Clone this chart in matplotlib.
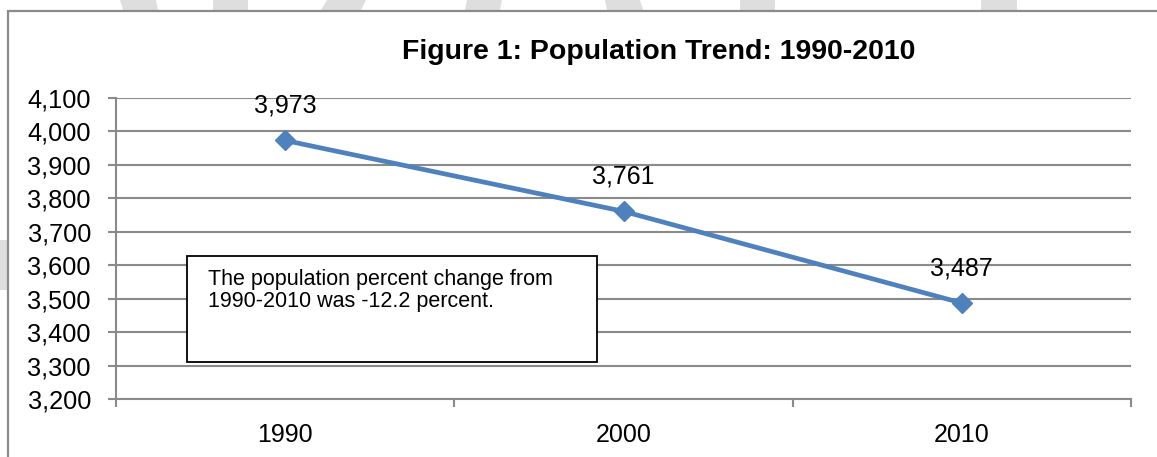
import matplotlib
matplotlib.use("Agg")
import matplotlib.pyplot as plt
from matplotlib.patches import Rectangle, Polygon
from matplotlib.ticker import FuncFormatter

plt.rcParams['font.family'] = ['Liberation Sans', 'DejaVu Sans']

years = ['1990', '2000', '2010']
population = [3973, 3761, 3487]
y_ticks = [3200, 3300, 3400, 3500, 3600, 3700, 3800, 3900, 4000, 4100]
title = 'Figure 1: Population Trend: 1990-2010'
note = 'The population percent change from\n1990-2010 was -12.2 percent.'

W, H = 1157, 457
fig = plt.figure(figsize=(W / 100, H / 100), dpi=100)


def px(x, y):
    # pixel position (top-left origin) -> figure fraction
    return (x / W, 1 - y / H)


# faint background marks around the chart frame
bg_shapes = [
    [(120, 0), (156, 0), (158, 10), (123, 10)],
    [(213, 0), (248, 0), (248, 10), (213, 10)],
    [(327, 0), (366, 0), (361, 10), (321, 10)],
    [(467, 0), (502, 0), (500, 10), (465, 10)],
    [(605, 0), (640, 0), (643, 10), (607, 10)],
    [(740, 0), (775, 0), (775, 10), (740, 10)],
    [(981, 0), (1017, 0), (1017, 10), (981, 10)],
    [(0, 240), (8, 240), (8, 290), (0, 290)],
]
for pts in bg_shapes:
    fig.add_artist(Polygon([px(*p) for p in pts], closed=True,
                           transform=fig.transFigure, facecolor='#dedede',
                           edgecolor='none', zorder=-3))

# chart frame (runs off the right and bottom edges)
x0, y0 = px(8, 11)
fig.add_artist(Rectangle((x0, -0.1), 1.2, y0 + 0.1, transform=fig.transFigure,
                         facecolor='white', edgecolor='#8a8a8a', lw=1.6, zorder=-2))

ax = fig.add_axes([116 / W, 1 - 399 / H, (1131 - 116) / W, (399 - 98) / H])
ax.set_facecolor('none')

x = list(range(1, len(years) + 1))
ax.plot(x, population, color='#4f81bd', lw=3.4, marker='D', markersize=10.5,
        markeredgecolor='#4f81bd', zorder=3, clip_on=False)

for xi, v in zip(x, population):
    ax.annotate(f'{v:,}', (xi, v), xytext=(0, 20), textcoords='offset points',
                ha='center', va='baseline', fontsize=18)

ax.set_xlim(0.5, len(years) + 0.5)
ax.set_ylim(y_ticks[0], y_ticks[-1])
ax.set_yticks(y_ticks)
ax.yaxis.set_major_formatter(FuncFormatter(lambda v, p: f'{int(v):,}'))

# boundaries between categories carry the tick marks, labels sit in between
ax.set_xticks([i + 0.5 for i in range(len(years) + 1)])
ax.set_xticklabels([])
ax.set_xticks(x, minor=True)
ax.set_xticklabels(years, minor=True)
ax.tick_params(axis='x', which='minor', length=0, pad=17, labelsize=18)
ax.tick_params(axis='x', which='major', length=6, width=1.5, color='#8a8a8a')
ax.tick_params(axis='y', length=6, width=1.5, color='#8a8a8a', pad=12, labelsize=18.3)

ax.grid(axis='y', color='#8a8a8a', lw=1.5)
ax.set_axisbelow(True)
for side in ['top', 'right']:
    ax.spines[side].set_visible(False)
for side in ['left', 'bottom']:
    ax.spines[side].set_color('#8a8a8a')
    ax.spines[side].set_linewidth(1.5)

fig.text(659 / W, 1 - 59 / H, title, ha='center', va='baseline',
         fontsize=20.5, fontweight='bold')

# note box
bx0, by0 = px(187, 362)
bx1, by1 = px(597, 256)
fig.add_artist(Rectangle((bx0, by0), bx1 - bx0, by1 - by0, transform=fig.transFigure,
                         facecolor='white', edgecolor='black', lw=1.3, zorder=4))
fig.text(208 / W, 1 - 269 / H, note, ha='left', va='top', fontsize=15.5,
         linespacing=1.07, zorder=5)

fig.savefig('out.png', dpi=100)
